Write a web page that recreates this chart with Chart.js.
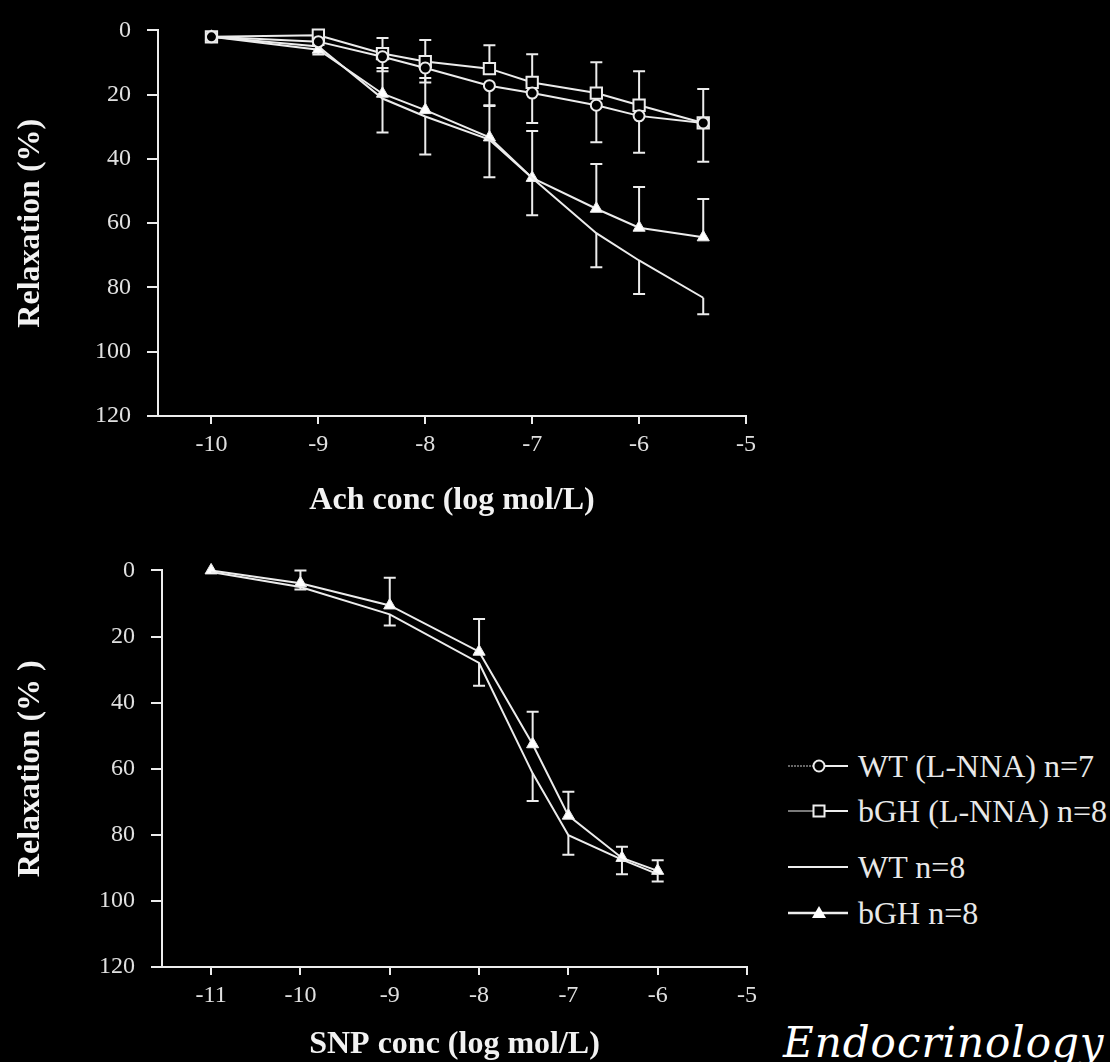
<!DOCTYPE html>
<html>
<head>
<meta charset="utf-8">
<script src="https://cdn.jsdelivr.net/npm/chart.js@4.4.1/dist/chart.umd.min.js"></script>
<style>
  html, body { margin: 0; padding: 0; background: #000; }
  body { width: 1110px; height: 1062px; position: relative; overflow: hidden; }
  canvas { position: absolute; left: 0; }
  #achChart { top: 0; }
  #snpChart { top: 540px; }
  .legend { position: absolute; left: 786px; font-family: "Liberation Serif", serif; font-size: 32px; color: #e8e8e8; }
  .legend .row { position: absolute; left: 0; height: 40px; white-space: nowrap; }
  .legend svg { position: absolute; left: 0; top: 0; }
  .legend span { position: absolute; left: 72px; top: 0; line-height: 40px; }
  .journal { position: absolute; left: 783px; top: 1018px; font-family: "DejaVu Serif", serif; font-style: italic; font-size: 42px; letter-spacing: 1px; color: #fff; white-space: nowrap; }
</style>
</head>
<body>
<canvas id="achChart" width="780" height="530"></canvas>
<canvas id="snpChart" width="780" height="522"></canvas>

<div class="legend">
  <div class="row" style="top:746px;">
    <svg width="70" height="40"><line x1="2" y1="20" x2="28" y2="20" stroke="#ccc" stroke-width="1.2" stroke-dasharray="2 1"/><line x1="38" y1="20" x2="62" y2="20" stroke="#eee" stroke-width="2"/><circle cx="33" cy="20" r="5.5" fill="#000" stroke="#eee" stroke-width="2"/></svg>
    <span>WT (L-NNA) n=7</span>
  </div>
  <div class="row" style="top:791px;">
    <svg width="70" height="40"><line x1="2" y1="20" x2="28" y2="20" stroke="#ccc" stroke-width="1.2"/><line x1="38" y1="20" x2="62" y2="20" stroke="#eee" stroke-width="2"/><rect x="27.5" y="14.5" width="11" height="11" fill="#000" stroke="#eee" stroke-width="2"/></svg>
    <span>bGH (L-NNA) n=8</span>
  </div>
  <div class="row" style="top:847px;">
    <svg width="70" height="40"><line x1="2" y1="20" x2="62" y2="20" stroke="#eee" stroke-width="2"/></svg>
    <span>WT n=8</span>
  </div>
  <div class="row" style="top:893px;">
    <svg width="70" height="40"><line x1="2" y1="20" x2="62" y2="20" stroke="#eee" stroke-width="2.5"/><polygon points="33,13 40,25 26,25" fill="#fff"/></svg>
    <span>bGH n=8</span>
  </div>
</div>
<div class="journal">Endocrinology</div>

<script>
// ---- Ach (top panel) ----
const achX = [-10, -9, -8.4, -8, -7.4, -7, -6.4, -6, -5.4];
const achTicks = [-10, -9, -8, -7, -6, -5];
const achWtLnna = [2, 3.5, 8.2, 11.7, 17.2, 19.5, 23.3, 26.6, 28.8];
const achWtLnnaErr = [0, 1, 4.5, 4.5, 6.3, 9.3, 11.5, 11.5, 12.1];
const achBghLnna = [2, 1.5, 7.2, 9.7, 11.9, 16.2, 19.5, 23.3, 28.8];
const achBghLnnaErr = [0, 1, 4.8, 6.7, 7.3, 8.8, 9.6, 10.6, 10.6];
const achWt = [2, 5, 21.2, 26.8, 34, 45.9, 63.1, 71.6, 83.2];
const achWtErr = [0, 2.5, 10.6, 11.8, 11.7, 11.6, 10.6, 10.4, 5.1];
const achBgh = [2, 6, 19.7, 24.8, 33.3, 45.9, 55.5, 61.4, 64.4];
const achBghErr = [0, 1.5, 8, 10, 10, 14.6, 13.9, 12.7, 11.9];

// ---- SNP (bottom panel) ----
const snpX = [-11, -10, -9, -8, -7.4, -7, -6.4, -6];
const snpTicks = [-11, -10, -9, -8, -7, -6, -5];
const snpWt = [0.5, 5, 13.3, 28, 61.4, 80.1, 87.5, 91.9];
const snpWtErr = [0, 0.8, 3.4, 6.9, 8.4, 5.9, 4.4, 2.2];
const snpBgh = [0, 3.9, 10.6, 24.6, 52.6, 74.2, 87, 90.9];
const snpBghErr = [0, 3.9, 8.4, 9.9, 9.8, 7.2, 3.4, 3.2];

const yTicks = [0, 20, 40, 60, 80, 100, 120];

const ink = "#ececec";
const serif = "'Liberation Serif', 'Times New Roman', serif";
Chart.defaults.font.family = serif;

function pts(xs, ys) {
  return xs.map((x, i) => ({ x, y: ys[i] }));
}

// one-sided SEM bars; dir -1 = towards 0 (up on the reversed axis), +1 = down
const errorBars = {
  id: "errorBars",
  beforeDatasetsDraw(chart) {
    const { ctx, scales: { x, y } } = chart;
    ctx.save();
    ctx.strokeStyle = ink;
    ctx.lineWidth = 2;
    chart.data.datasets.forEach(ds => {
      if (!ds.err) return;
      ds.data.forEach((p, i) => {
        const e = ds.err[i];
        if (!e) return;
        const px = x.getPixelForValue(p.x);
        const y0 = y.getPixelForValue(p.y);
        const y1 = y.getPixelForValue(p.y + ds.errDir * e);
        ctx.beginPath();
        ctx.moveTo(px, y0);
        ctx.lineTo(px, y1);
        ctx.moveTo(px - 6, y1);
        ctx.lineTo(px + 6, y1);
        ctx.stroke();
      });
    });
    ctx.restore();
  }
};

function series(label, xs, ys, err, dir, style) {
  return Object.assign({
    label,
    data: pts(xs, ys),
    err,
    errDir: dir,
    borderColor: ink,
    borderWidth: 2,
    backgroundColor: "#000",
    pointBorderColor: ink,
    pointBorderWidth: 2,
    tension: 0,
    clip: false
  }, style);
}

function makeOptions(xMin, xTickVals, yAxisWidth, xAxisHeight, pad, xTitle, yTitle) {
  return {
    responsive: false,
    animation: false,
    layout: { padding: pad },
    plugins: { legend: { display: false }, tooltip: { enabled: false } },
    scales: {
      x: {
        type: "linear",
        min: xMin,
        max: -5,
        afterBuildTicks: s => { s.ticks = xTickVals.map(v => ({ value: v })); },
        afterFit: s => { s.height = xAxisHeight; },
        border: { color: ink, width: 2 },
        grid: { display: true, drawOnChartArea: false, drawTicks: true, tickLength: 8, color: ink, lineWidth: 2 },
        ticks: { color: "#e0e0e0", font: { family: serif, size: 24 }, padding: 6 },
        title: { display: true, text: xTitle, color: "#f2f2f2", font: { family: serif, size: 32, weight: "bold", lineHeight: 1.1 }, padding: { top: 0, bottom: xTitle.startsWith("Ach") ? 12 : 0 } }
      },
      y: {
        reverse: true,
        min: 0,
        max: 120,
        afterBuildTicks: s => { s.ticks = yTicks.map(v => ({ value: v })); },
        afterFit: s => { s.width = yAxisWidth; },
        border: { color: ink, width: 2 },
        grid: { display: true, drawOnChartArea: false, drawTicks: true, tickLength: 11, color: ink, lineWidth: 2 },
        ticks: { color: "#e0e0e0", font: { family: serif, size: 24 }, padding: 16 },
        title: { display: true, text: yTitle, color: "#f2f2f2", font: { family: serif, size: 32, weight: "bold", lineHeight: 1.1 }, padding: { top: 13, bottom: 0 } }
      }
    }
  };
}

new Chart(document.getElementById("achChart"), {
  type: "line",
  data: {
    datasets: [
      series("WT (L-NNA) n=7", achX, achWtLnna, achWtLnnaErr, 1, { pointStyle: "circle", pointRadius: 5.5 }),
      series("bGH (L-NNA) n=8", achX, achBghLnna, achBghLnnaErr, -1, { pointStyle: "rect", pointRadius: 8 }),
      series("WT n=8", achX, achWt, achWtErr, 1, { pointRadius: 0 }),
      series("bGH n=8", achX, achBgh, achBghErr, -1, { pointStyle: "triangle", pointRadius: 7, backgroundColor: "#fff", pointBorderWidth: 1 })
    ]
  },
  options: makeOptions(-10.5, achTicks, 158, 114, { left: 0, top: 18, right: 34, bottom: 0 }, "Ach conc (log mol/L)", "Relaxation (%)"),
  plugins: [errorBars]
});

new Chart(document.getElementById("snpChart"), {
  type: "line",
  data: {
    datasets: [
      series("WT n=8", snpX, snpWt, snpWtErr, 1, { pointRadius: 0 }),
      series("bGH n=8", snpX, snpBgh, snpBghErr, -1, { pointStyle: "triangle", pointRadius: 7, backgroundColor: "#fff", pointBorderWidth: 1 })
    ]
  },
  options: makeOptions(-11.55, snpTicks, 162, 95, { left: 0, top: 20, right: 33, bottom: 0 }, "SNP conc (log mol/L)", "Relaxation (% )"),
  plugins: [errorBars]
});
</script>
</body>
</html>
